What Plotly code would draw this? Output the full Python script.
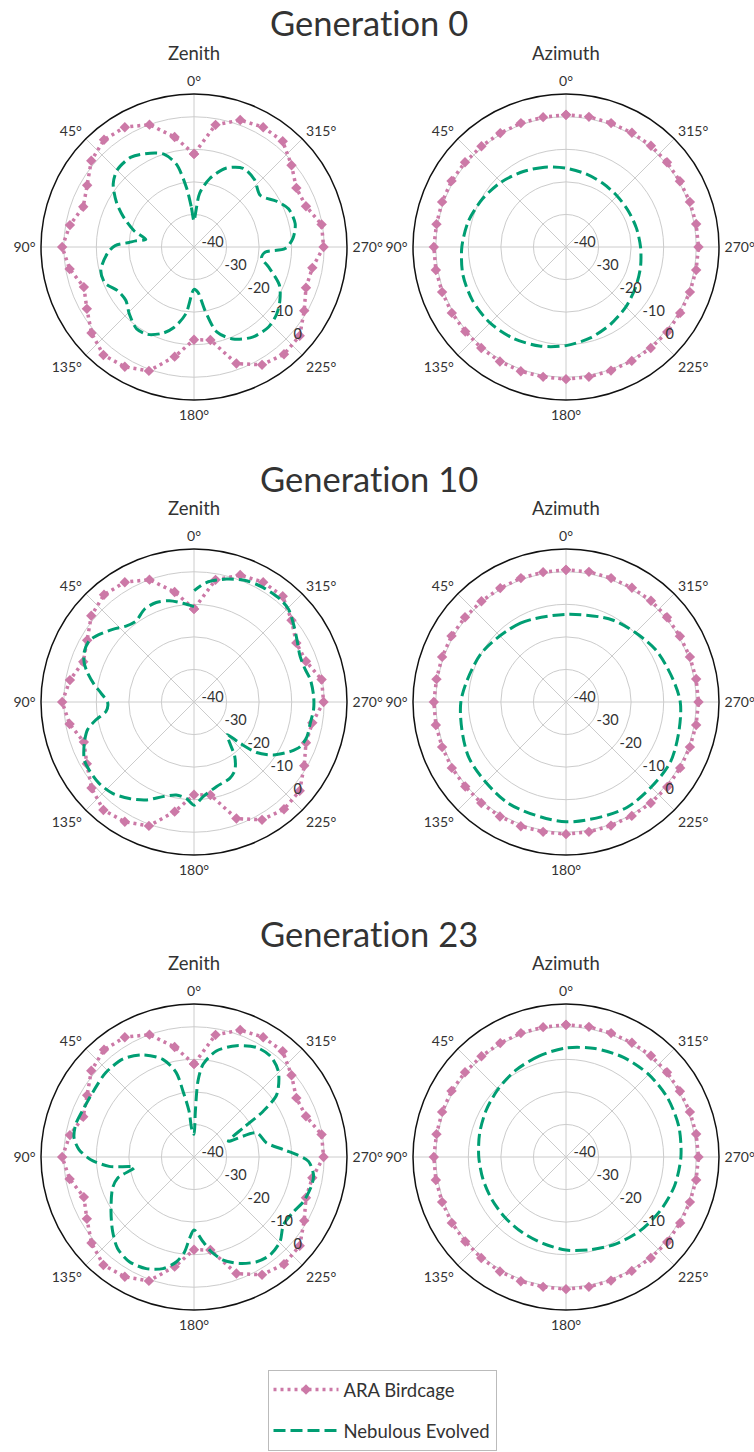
import plotly.graph_objects as go

PINK = "#CC79A7"
GREEN = "#009E73"
TEXT = "#333333"
FONT = "Lato"

# ---- ARA Birdcage reference antenna (same in every generation) ----
ara_theta = list(range(0, 361, 10))
ara_zenith = [-11.4, -5.7, 0.0, 2.5, 3.0, 1.2, -2.1, -3.8, -1.3, 0.5,
              -1.2, -4.0, -2.0, 1.1, 3.3, 2.5, 0.5, -5.8, -11.5, -11.0,
              -1.9, 1.8, 3.0, 2.4, -0.9, -3.4, -3.1, -0.2, -0.2, -3.4,
              -3.7, -0.9, 2.4, 2.5, 1.5, -1.9, -11.4]
ara_azimuth = [0.6, 0.5, 0.5, 0.4, 0.4, 0.5, 0.6, 0.5, 0.4, 0.6,
               0.6, 0.5, 0.5, 0.4, 0.5, 0.6, 0.6, 0.5, 0.6, 0.5,
               0.4, 0.4, 0.5, 0.6, 0.5, 0.5, 0.6, 0.7, 0.6, 0.5,
               0.4, 0.5, 0.6, 0.5, 0.5, 0.6, 0.6]

# ---- Nebulous Evolved antenna, zenith cuts ----
neb_zen_theta_g0 = [0, 4, 7, 12, 18, 25, 35, 45, 52, 60, 67, 75, 81, 84, 86, 89,
                    94, 104, 112, 120, 128, 136, 145, 152, 160, 166, 173, 180,
                    185, 190, 195, 203, 213, 223, 231, 238, 246, 255, 261, 266,
                    269, 275, 283, 292, 299, 308, 318, 328, 338, 347, 354, 357, 360]
neb_zen_r_g0 = [-32, -27.5, -22, -14, -10, -8.2, -6.3, -6.6, -8.5, -12.5, -16.5, -21,
                -25, -22, -20, -15.8, -13.4, -10.5, -10.5, -13, -13.4, -11.4, -9.3,
                -9.6, -11.8, -14.5, -19.3, -27, -26, -20, -13, -9.3, -7.0, -6.4,
                -7.3, -8.9, -11.3, -16.3, -19, -18, -12, -9.5, -8.1, -8.7, -11,
                -14.2, -12.2, -11.5, -13.9, -18.4, -23.4, -29, -32]

neb_zen_theta_g10 = [0, 6.4, 13.6, 20.8, 28.1, 35.6, 41.8, 48.2, 56.1, 59.8, 65.9,
                     70.4, 74.7, 80.1, 84.5, 90.7, 96.1, 100.3, 104.6, 110.6, 117.8,
                     123.0, 130.6, 138.3, 146.2, 153.9, 161.8, 169.2, 175.4, 180,
                     185.5, 194.8, 205.1, 211, 216.8, 221, 225.3, 228.1, 231.1,
                     236.3, 242.7, 247.2, 253, 259.7, 266.3, 272.7, 280.9, 286.3,
                     293.4, 301.3, 308, 314.5, 320.1, 328.8, 336.6, 345.2, 354.1, 359.9]
neb_zen_r_g10 = [-10.7, -9.5, -8.0, -7.3, -7.7, -9.4, -8.7, -6.5, -3.7, -2.7, -3.0,
                 -4.2, -6.1, -8.9, -11.3, -13.5, -12.8, -9.4, -6.2, -4.0, -1.9,
                 -1.6, -1.6, -2.4, -4.3, -6.5, -9.4, -10.9, -10.3, -8.3,
                 -10.8, -13.1, -14.1, -15.6, -19.1, -23.2, -25.7, -21.1, -15.3,
                 -10.7, -6.8, -4.6, -3.7, -3.7, -3.2, -3.2, -3.6, -4.4,
                 -4.5, -3.0, -1.2, 0.7, 1.2, 1.1, 0.6, -0.95, -3.1, -5.8]

neb_zen_theta_g23 = [0, 4.5, 6.2, 9.5, 11.9, 17.7, 26.6, 36.1, 46.2, 53, 65.9, 74.6,
                     81, 86.3, 91.5, 96.3, 99.9, 105.4, 111, 123.3, 132.5, 140.1,
                     148.3, 156.8, 164.4, 170.4, 174.3, 176.9, 180, 186.1, 190.4,
                     195.8, 203.3, 210.9, 217.8, 225.4, 232.8, 241.2, 247.9, 256.7,
                     261.6, 267.8, 271.3, 274.7, 281, 291.1, 294.7, 300.6, 303.5,
                     307.1, 315.6, 323.1, 330.2, 339.1, 348.1, 354.4, 357, 358.3, 360]
neb_zen_r_g23 = [-33, -31.5, -25.8, -19.5, -13.5, -8.5, -4.9, -2.8, -2.5, -2.9, -3.0,
                 -2.3, -2.7, -4.6, -8.3, -13.8, -21.4, -15.7, -13.2, -9.5, -6.1, -3.4,
                 -2.2, -2.7, -4.4, -7.3, -10.7, -15.0, -17.6, -13.8, -10.4,
                 -7.1, -4.4, -2.5, -1.9, -2.9, -5.5, -5.1, -3.7, -2.8,
                 -2.9, -4.8, -8.4, -12.4, -17.3, -19.4, -28.4, -22.4, -14.5,
                 -8.1, -3.0, -1.1, -1.25, -3.4, -6.7, -11.4, -16.6, -25.9, -33]

# ---- Nebulous Evolved antenna, azimuth cuts ----
neb_az_theta_g0 = list(range(0, 361, 15))
neb_az_r_g0 = [-15.8, -14.6, -13.3, -11.8, -10.4, -9.0, -8.0, -7.2, -6.9, -7.0,
               -7.6, -8.5, -9.7, -11.1, -12.6, -14.0, -15.3, -16.3, -17.1, -17.6,
               -17.9, -17.8, -17.4, -16.7, -15.8]

neb_az_theta_g10 = list(range(0, 361, 30))
neb_az_r_g10 = [-13.1, -12.0, -10.0, -7.7, -5.6, -4.2, -3.2, -2.6, -3.0, -4.9,
                -8.1, -11.0, -13.1]

neb_az_theta_g23 = list(range(0, 361, 15))
neb_az_r_g23 = [-6.5, -7.9, -9.2, -10.5, -11.6, -12.5, -13.2, -13.6, -13.75, -13.6,
                -13.2, -12.5, -11.4, -10.5, -9.2, -7.9, -6.7, -5.5, -4.7, -4.1,
                -3.9, -4.1, -4.65, -5.5, -6.5]

# "ti" kept apart so the font does not draw its ligature
gen_titles = ["Generat\u200cion 0", "Generat\u200cion 10", "Generat\u200cion 23"]
col_titles = ["Zenith", "Azimuth"]
zenith_curves = [(neb_zen_theta_g0, neb_zen_r_g0),
                 (neb_zen_theta_g10, neb_zen_r_g10),
                 (neb_zen_theta_g23, neb_zen_r_g23)]
azimuth_curves = [(neb_az_theta_g0, neb_az_r_g0),
                  (neb_az_theta_g10, neb_az_r_g10),
                  (neb_az_theta_g23, neb_az_r_g23)]

r_ticks = [-40, -30, -20, -10, 0]
r_range = [-40, 7]
ang_ticks = list(range(0, 360, 45))

W, H = 754, 1452
RADIUS = 153
col_cx = [194, 566]
row_cy = [247, 702, 1157]

fig = go.Figure()
layout_polars = {}
annotations = []

idx = 0
for row in range(3):
    for col in range(2):
        idx += 1
        name = "polar" if idx == 1 else f"polar{idx}"
        cx, cy = col_cx[col], row_cy[row]
        dom_x = [(cx - RADIUS) / W, (cx + RADIUS) / W]
        dom_y = [(H - cy - RADIUS) / H, (H - cy + RADIUS) / H]
        layout_polars[name] = dict(
            domain=dict(x=dom_x, y=dom_y),
            bgcolor="white",
            angularaxis=dict(
                rotation=90, direction="counterclockwise",
                tickvals=ang_ticks, ticktext=[f"{a}°" for a in ang_ticks],
                ticks="outside", ticklen=2, tickcolor="rgba(0,0,0,0)",
                showline=True, linecolor="#111111", linewidth=1.5,
                gridcolor="#cccccc", gridwidth=1,
                tickfont=dict(family=FONT, size=14, color=TEXT),
            ),
            radialaxis=dict(
                range=r_range, tickvals=r_ticks,
                ticktext=[str(v) for v in r_ticks],
                angle=-45, tickangle=-45, side="counterclockwise",
                showline=False, ticks="",
                gridcolor="#cccccc", gridwidth=1,
                tickfont=dict(family=FONT, size=14.5, color=TEXT),
            ),
        )
        if col == 0:
            th_ara, r_ara = ara_theta, ara_zenith
            th_neb, r_neb = zenith_curves[row]
        else:
            th_ara, r_ara = ara_theta, ara_azimuth
            th_neb, r_neb = azimuth_curves[row]
        fig.add_trace(go.Scatterpolar(
            theta=th_ara, r=r_ara, subplot=name, mode="lines+markers",
            name="ARA Birdcage", legendgroup="ara", showlegend=(idx == 1),
            line=dict(color=PINK, width=3.5, dash="3px,4px"),
            marker=dict(symbol="diamond", size=8, color=PINK),
        ))
        fig.add_trace(go.Scatterpolar(
            theta=th_neb, r=r_neb, subplot=name, mode="lines",
            name="Nebulous Evolved", legendgroup="neb", showlegend=(idx == 1),
            line=dict(color=GREEN, width=3, dash="12px,5px", shape="spline",
                      smoothing=0.8),
        ))
        annotations.append(dict(
            text=col_titles[col], x=cx / W, y=(H - 53 - (cy - 247)) / H,
            xref="paper", yref="paper", showarrow=False,
            font=dict(family=FONT, size=18.5, color=TEXT),
            xanchor="center", yanchor="middle"))
    annotations.append(dict(
        text=gen_titles[row], x=369 / W, y=(H - 23 - (row_cy[row] - 247)) / H,
        xref="paper", yref="paper", showarrow=False,
        font=dict(family=FONT, size=34.5, color=TEXT),
        xanchor="center", yanchor="middle"))

fig.update_layout(
    width=W, height=H, margin=dict(l=0, r=0, t=0, b=0),
    paper_bgcolor="white", plot_bgcolor="white",
    showlegend=True,
    legend=dict(
        x=382 / W, y=(H - 1370) / H, xanchor="center", yanchor="top",
        bgcolor="white", bordercolor="#bbbbbb", borderwidth=1,
        font=dict(family=FONT, size=18.5, color=TEXT),
        traceorder="grouped", tracegroupgap=14, itemwidth=65,
        entrywidth=178,
    ),
    annotations=annotations,
    **layout_polars,
)

fig.write_html("out.html")
